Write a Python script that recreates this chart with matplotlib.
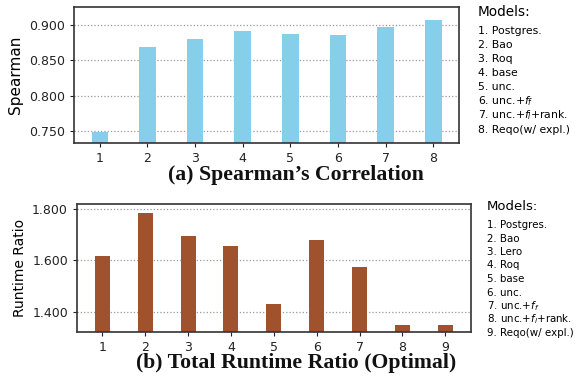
import matplotlib
matplotlib.use("Agg")
import matplotlib.pyplot as plt

# Data
top_x = [1, 2, 3, 4, 5, 6, 7, 8]
top_vals = [0.748, 0.869, 0.880, 0.891, 0.887, 0.885, 0.897, 0.907]
top_models = ["1. Postgres.", "2. Bao", "3. Roq", "4. base", "5. unc.",
              "6. unc.+$f_f$", "7. unc.+$f_l$+rank.", "8. Reqo(w/ expl.)"]

bot_x = [1, 2, 3, 4, 5, 6, 7, 8, 9]
bot_vals = [1.617, 1.784, 1.695, 1.656, 1.430, 1.679, 1.574, 1.348, 1.348]
bot_models = ["1. Postgres.", "2. Bao", "3. Lero", "4. Roq", "5. base", "6. unc.",
              "7. unc.+$f_f$", "8. unc.+$f_l$+rank.", "9. Reqo(w/ expl.)"]

W, H = 585, 385
fig = plt.figure(figsize=(W / 100, H / 100), dpi=100)

def style(ax):
    for s in ax.spines.values():
        s.set_color("#333333")
        s.set_linewidth(1.2)
    ax.yaxis.grid(True, linestyle=":", color="#999999", linewidth=0.9)
    ax.set_axisbelow(True)
    ax.tick_params(labelsize=9, colors="#222222", length=3)

# Top
ax1 = fig.add_axes([74 / W, 1 - 143 / H, 385 / W, 136 / H])
ax1.bar(top_x, top_vals, width=0.35, color="#87CEEB")
ax1.set_ylim(0.733, 0.925)
ax1.set_yticks([0.750, 0.800, 0.850, 0.900])
ax1.yaxis.set_major_formatter(matplotlib.ticker.FormatStrFormatter("%.3f"))
ax1.set_xticks(top_x)
ax1.set_ylabel("Spearman", fontsize=11)
style(ax1)

# Bottom
ax2 = fig.add_axes([77 / W, 1 - 332.3 / H, 393.7 / W, 128.6 / H])
ax2.bar(bot_x, bot_vals, width=0.35, color="#A0522D")
ax2.set_ylim(1.320, 1.821)
ax2.set_yticks([1.400, 1.600, 1.800])
ax2.yaxis.set_major_formatter(matplotlib.ticker.FormatStrFormatter("%.3f"))
ax2.set_xticks(bot_x)
ax2.set_ylabel("Runtime Ratio", fontsize=10)
style(ax2)

# Titles
fig.text(296 / W, 1 - 175 / H, "(a) Spearman\u2019s Correlation", ha="center", va="center",
         family="Liberation Serif", fontweight="bold", fontsize=15.7, color="#111111")
fig.text(296 / W, 1 - 363 / H, "(b) Total Runtime Ratio (Optimal)", ha="center", va="center",
         family="Liberation Serif", fontweight="bold", fontsize=15.7, color="#111111")

# Legends (text lists)
fig.text(478 / W, 1 - 12 / H, "Models:", ha="left", va="center", fontsize=9.8)
for i, m in enumerate(top_models):
    fig.text(478 / W, 1 - (31 + i * 14.1) / H, m, ha="left", va="center", fontsize=7.8)

fig.text(486.7 / W, 1 - 206.7 / H, "Models:", ha="left", va="center", fontsize=9.5)
for i, m in enumerate(bot_models):
    fig.text(486.7 / W, 1 - (225 + i * 13.5) / H, m, ha="left", va="center", fontsize=7.4)

fig.savefig("out.png", dpi=100)
